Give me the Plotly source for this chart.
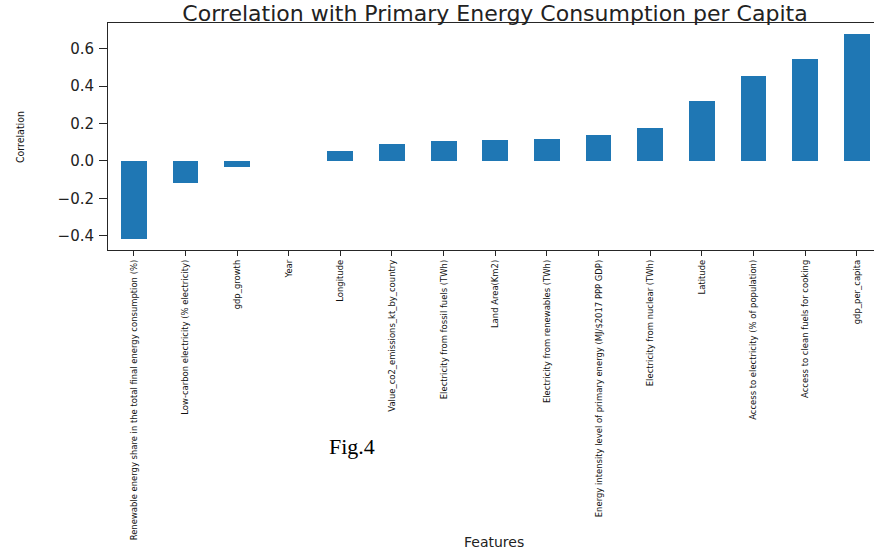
import plotly.graph_objects as go

# Feature correlations with primary energy consumption per capita (sorted ascending)
features = [
    "Renewable energy share in the total final energy consumption (%)",
    "Low-carbon electricity (% electricity)",
    "gdp_growth",
    "Year",
    "Longitude",
    "Value_co2_emissions_kt_by_country",
    "Electricity from fossil fuels (TWh)",
    "Land Area(Km2)",
    "Electricity from renewables (TWh)",
    "Energy intensity level of primary energy (MJ/$2017 PPP GDP)",
    "Electricity from nuclear (TWh)",
    "Latitude",
    "Access to electricity (% of population)",
    "Access to clean fuels for cooking",
    "gdp_per_capita",
]
correlation = [
    -0.420, -0.120, -0.034, 0.0, 0.053, 0.093, 0.106, 0.111,
    0.117, 0.139, 0.179, 0.323, 0.457, 0.546, 0.681,
]

y_ticks = [-0.4, -0.2, 0.0, 0.2, 0.4, 0.6]

W, H = 874, 551
ML, MT, MB = 107.5, 23, 301          # plot area: x 107.5..874, y 23..250
AXIS = "#262626"
NARROW = "Liberation Sans Narrow, DejaVu Sans Condensed, sans-serif"

fig = go.Figure(
    go.Bar(
        x=list(range(len(features))),
        y=correlation,
        width=0.5,
        marker=dict(color="#1f77b4", line=dict(width=0)),
        hoverinfo="x+y",
    )
)

fig.update_layout(
    width=W,
    height=H,
    margin=dict(l=ML, r=0, t=MT, b=MB, pad=0, autoexpand=False),
    paper_bgcolor="white",
    plot_bgcolor="white",
    showlegend=False,
    bargap=0,
    title=dict(
        text="Correlation with Primary Energy Consumption per Capita",
        font=dict(family="DejaVu Sans", size=22, color="#222222"),
        x=495 / W,
        xanchor="center",
        y=1 - 13 / H,
        yanchor="middle",
    ),
)

fig.update_xaxes(
    automargin=False,
    range=[-0.5, 14.335],
    tickmode="array",
    tickvals=list(range(len(features))),
    ticktext=features,
    tickangle=-90,
    tickfont=dict(family=NARROW, size=9.4, color="#111111"),
    ticks="outside",
    ticklen=5,
    tickcolor=AXIS,
    showline=True,
    linecolor=AXIS,
    linewidth=1,
    mirror=True,
    showgrid=False,
    zeroline=False,
)

fig.update_yaxes(
    automargin=False,
    range=[-0.4765, 0.7385],
    tickmode="array",
    tickvals=y_ticks,
    ticktext=[f"{v:.1f}".replace("-", "\u2212") for v in y_ticks],
    tickfont=dict(family="DejaVu Sans", size=15, color="#222222"),
    ticks="outside",
    ticklen=8,
    tickcolor=AXIS,
    ticklabelstandoff=2,
    showline=True,
    linecolor=AXIS,
    linewidth=1,
    showgrid=False,
    zeroline=False,
)

# axis titles and figure caption, positioned in page pixels
captions = [
    ("Correlation", 19, 137.5, -90, dict(family=NARROW, size=10.5, color="#111111")),
    ("Features", 493.5, 542, 0, dict(family="DejaVu Sans", size=14, color="#222222")),
    ("Fig.4", 352, 447, 0, dict(family="Liberation Serif", size=22, color="black")),
]
for text, px, py, angle, font in captions:
    fig.add_annotation(
        text=text,
        xref="paper", yref="paper",
        x=(px - ML) / (W - ML),
        y=(H - MB - py) / (H - MT - MB),
        xanchor="center", yanchor="middle",
        showarrow=False, textangle=angle, font=font,
    )

fig.write_html("out.html")
